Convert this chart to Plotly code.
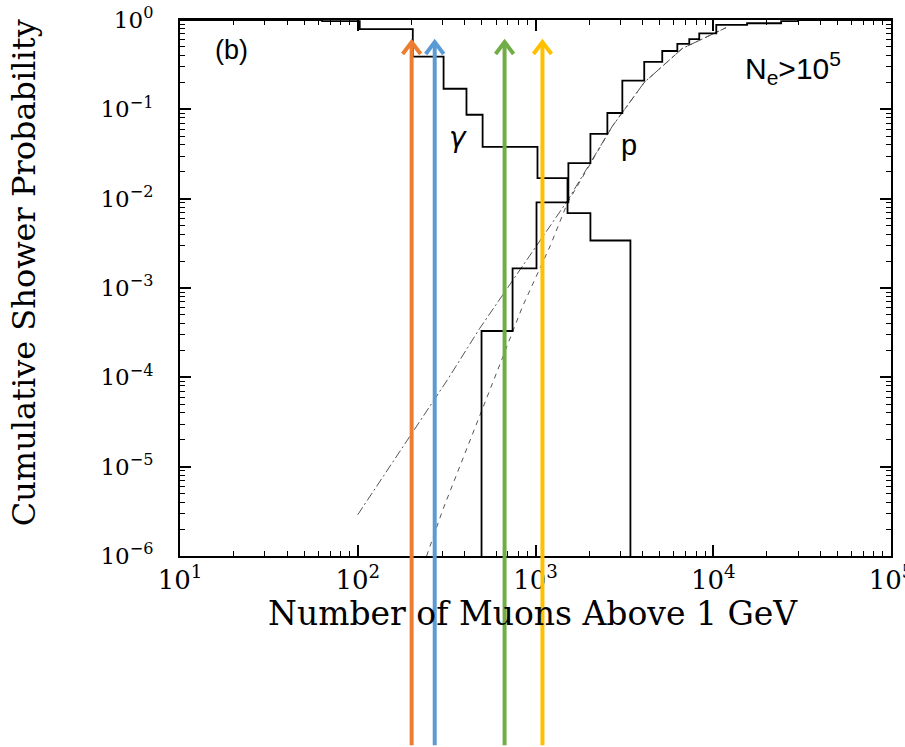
import plotly.graph_objects as go

# Cumulative shower probability versus muon number (N_e > 1e5)
gamma_edges = [10, 63, 102.6, 204, 304, 409, 504, 1026, 1514, 2037, 3420]
gamma_prob = [1.0, 0.97, 0.79, 0.39, 0.17, 0.087, 0.038, 0.017, 0.0069, 0.0034, 1e-6]

proton_edges = [497, 497, 743, 1013, 1531, 2037, 2537, 3080, 4090, 5165, 6280,
                7330, 8340, 10400, 15500, 24100, 30000, 100000]
proton_prob = [1e-6, 3.3e-4, 1.66e-3, 0.0091, 0.025, 0.053, 0.091, 0.21, 0.34,
               0.45, 0.54, 0.61, 0.71, 0.88, 0.92, 0.97, 1.0, 1.0]

# model curves
dashdot_n = [100, 321, 484, 653, 1514, 2710, 4090, 6700, 11800]
dashdot_p = [2.9e-6, 9.5e-5, 3.5e-4, 8.4e-4, 9.5e-3, 0.065, 0.2, 0.48, 0.82]
dashed_n = [244, 301, 612, 845, 1213, 1514, 2710, 4090, 6700, 11800]
dashed_p = [1e-6, 3.3e-6, 1.2e-4, 6.2e-4, 3.0e-3, 9e-3, 0.065, 0.2, 0.48, 0.82]

# highlighted muon counts
marker_counts = [201, 271, 670, 1094]
marker_colors = ["#ED7D31", "#5B9BD5", "#70AD47", "#FFC000"]

x_tick_vals = [10, 100, 1000, 10000, 100000]
x_tick_text = ["10<sup>1</sup>", "10<sup>2</sup>", "10<sup>3</sup>", "10<sup>4</sup>", "10<sup>5</sup>"]
y_tick_vals = [1e-6, 1e-5, 1e-4, 1e-3, 1e-2, 1e-1, 1]
y_tick_text = ["10<sup>−6</sup>", "10<sup>−5</sup>", "10<sup>−4</sup>", "10<sup>−3</sup>",
               "10<sup>−2</sup>", "10<sup>−1</sup>", "10<sup>0</sup>"]

minor_x = [k * 10 ** d for d in range(1, 5) for k in range(2, 10)]
minor_y = [k * 10.0 ** d for d in range(-6, 0) for k in range(2, 10)]

SERIF = "DejaVu Serif"
SANS = "Liberation Sans"

fig = go.Figure()
fig.add_trace(go.Scatter(x=dashdot_n, y=dashdot_p, mode="lines",
                         line=dict(color="#555", width=1, dash="9px,3px,2px,3px")))
fig.add_trace(go.Scatter(x=dashed_n, y=dashed_p, mode="lines",
                         line=dict(color="#555", width=1, dash="5px,5px")))
fig.add_trace(go.Scatter(x=gamma_edges, y=gamma_prob, mode="lines",
                         line=dict(color="black", width=1.8, shape="hv")))
fig.add_trace(go.Scatter(x=proton_edges, y=proton_prob, mode="lines",
                         line=dict(color="black", width=1.8, shape="hv")))

tip_y = 0.959
tail_y = -0.353
for n, c in zip(marker_counts, marker_colors):
    fig.add_shape(type="line", xref="x", yref="paper", x0=n, x1=n, y0=tail_y, y1=tip_y - 0.004,
                  line=dict(color=c, width=4))
    fig.add_shape(type="path", xref="x", yref="paper", xsizemode="pixel", ysizemode="pixel",
                  xanchor=n, yanchor=tip_y, path="M-9,-12 L0,0 L9,-12",
                  line=dict(color=c, width=4), fillcolor="rgba(0,0,0,0)")

axis_common = dict(type="log", showline=True, linecolor="black", linewidth=2, mirror="ticks",
                   ticks="inside", ticklen=11, tickwidth=1.5, tickcolor="black",
                   showgrid=False, zeroline=False, tickmode="array", ticklabeloverflow="allow",
                   automargin=False)

fig.update_xaxes(range=[1, 5], tickvals=x_tick_vals, ticktext=x_tick_text,
                 tickfont=dict(family=SERIF, size=26, color="black"),
                 minor=dict(ticks="inside", ticklen=5, tickwidth=1.2, tickcolor="black",
                            tickmode="array", tickvals=minor_x, showgrid=False),
                 **axis_common)
fig.update_yaxes(range=[-6, 0], tickvals=y_tick_vals, ticktext=y_tick_text,
                 tickfont=dict(family=SERIF, size=23, color="black"), ticklabelstandoff=20,
                 minor=dict(ticks="inside", ticklen=5, tickwidth=1.2, tickcolor="black",
                            tickmode="array", tickvals=minor_y, showgrid=False),
                 **axis_common)

annotations = [
    dict(text="Number of Muons Above 1 GeV", xref="paper", yref="paper", x=0.497, y=-0.107,
         showarrow=False, font=dict(family=SERIF, size=33, color="black"),
         xanchor="center", yanchor="middle"),
    dict(text="Cumulative Shower Probability", xref="paper", yref="paper", x=-0.219, y=0.528,
         textangle=-90, showarrow=False, font=dict(family=SERIF, size=32, color="black"),
         xanchor="center", yanchor="middle"),
    dict(text="(b)", x=1.287, y=-0.336, xref="x", yref="y", showarrow=False,
         font=dict(family=SANS, size=27, color="black")),
    dict(text="<i>γ</i>", x=2.562, y=-1.32, xref="x", yref="y", showarrow=False,
         font=dict(family="DejaVu Sans", size=28, color="black")),
    dict(text="p", x=3.528, y=-1.40, xref="x", yref="y", showarrow=False,
         font=dict(family=SANS, size=29, color="black")),
    dict(text="N<sub>e</sub>&gt;10<sup>5</sup>", x=4.449, y=-0.54, xref="x", yref="y",
         showarrow=False, font=dict(family=SANS, size=30, color="black")),
]

fig.update_layout(width=905, height=747, margin=dict(l=180, r=14, t=20, b=191),
                  paper_bgcolor="white", plot_bgcolor="white", showlegend=False,
                  annotations=annotations)

fig.write_html("out.html")
